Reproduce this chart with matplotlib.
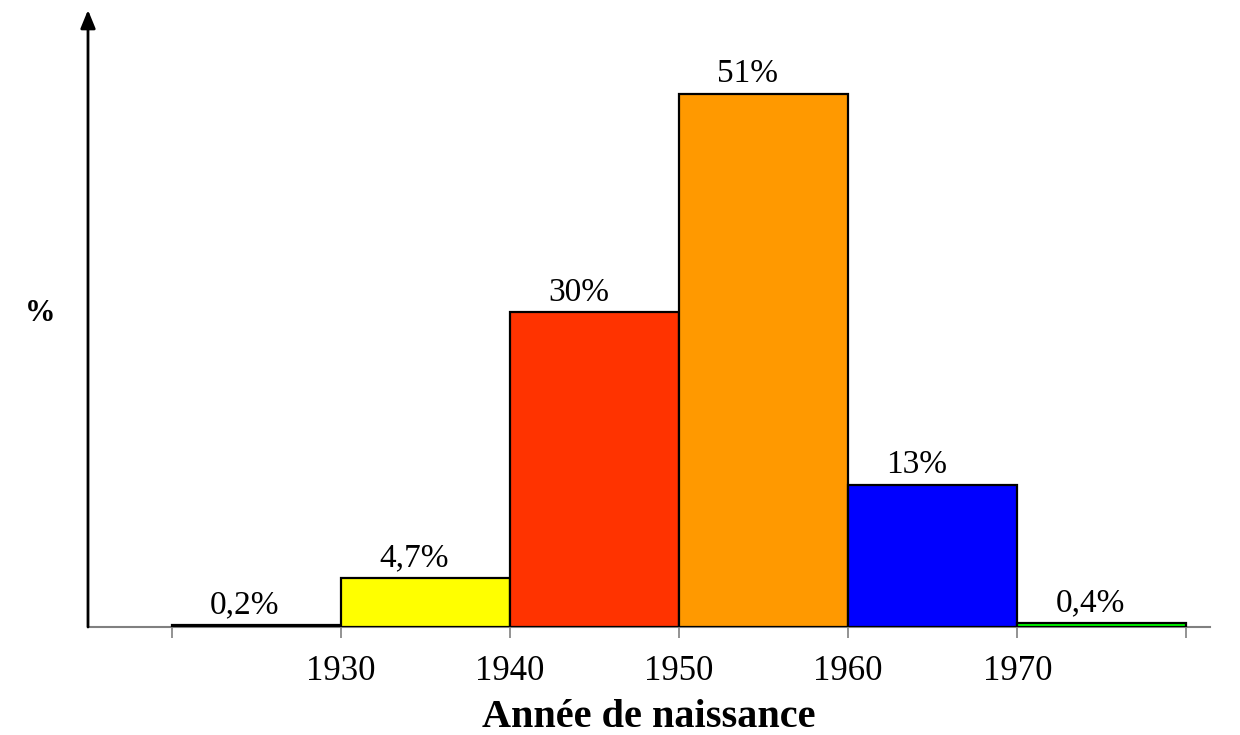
import matplotlib.pyplot as plt
import numpy as np

# classes d'annees de naissance (bords gauches) et pourcentages
debut = [1920, 1930, 1940, 1950, 1960, 1970]
pourcent = [0.2, 4.7, 30.1, 51, 13.6, 0.4]
etiquettes = ['0,2%', '4,7%', '30%', '51%', '13%', '0,4%']
couleurs = ['#000000', '#FFFF00', '#FF3300', '#FF9900', '#0000FF', '#00FF00']
ticks = [1930, 1940, 1950, 1960, 1970]

plt.rcParams['font.family'] = ['Liberation Serif', 'DejaVu Serif']

fig = plt.figure(figsize=(12.4, 7.35), dpi=100)
ax = fig.add_axes([88/1240, 1-627/735, (1210-88)/1240, (627-10)/735])
ax.set_xlim(1915.04, 1981.4)
ax.set_ylim(0, 59)

ax.bar(debut, pourcent, width=10, align='edge', color=couleurs,
       edgecolor='black', linewidth=1.6, zorder=3)
for x, h, t in zip(debut, pourcent, etiquettes):
    ax.text(x+2.25, h+0.45, t, ha='left', va='bottom', fontsize=24)

for s in ['top', 'right', 'left']:
    ax.spines[s].set_visible(False)
ax.spines['bottom'].set_color('#808080')
ax.spines['bottom'].set_linewidth(1.5)

# axe vertical avec fleche
ax.annotate('', xy=(0, 1), xycoords='axes fraction', xytext=(0, 0),
            arrowprops=dict(arrowstyle='-|>,head_width=0.45,head_length=1.1',
                            color='black', lw=2, shrinkA=0, shrinkB=0),
            annotation_clip=False)

ax.set_yticks([])
ax.set_xticks(np.arange(1920, 1981, 10), minor=False)
ax.set_xticklabels([''] + [str(t) for t in ticks] + [''], fontsize=25)
ax.tick_params(axis='x', direction='out', length=8, width=1.2, color='#808080', pad=12)

ax.set_xlabel('Année de naissance', fontsize=29, fontweight='bold', labelpad=8)
fig.text(40/1240, 1-313/735, '%', fontsize=22, fontweight='bold', ha='center', va='center')

fig.savefig('out.png', dpi=100)
